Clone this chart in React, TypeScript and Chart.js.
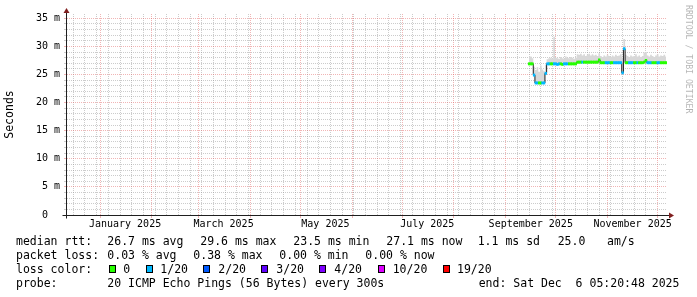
import React, { useEffect, useRef } from 'react';
import { Chart, registerables } from 'chart.js';

Chart.register(...registerables);

// x values are days counted from 1 January 2025 (day 0)
const startDay = 257;
const medianRtt = [
  26.9, 26.9, 26.9, 24.9, 23.5, 23.5, 23.5, 23.5, 23.5, 23.5,
  25.2, 26.9, 26.9, 26.9, 26.9, 26.9, 26.9, 26.8, 26.9, 26.9,
  26.8, 26.9, 26.9, 26.9, 26.9, 26.9, 26.9, 26.9, 26.9, 27.2,
  27.2, 27.2, 27.2, 27.2, 27.2, 27.2, 27.2, 27.2, 27.2, 27.2,
  27.2, 27.2, 27.6, 27.1, 27.1, 27.1, 27.1, 27.1, 27.1, 27.1,
  27.1, 27.1, 27.1, 27.1, 27.1, 27.1, 25.3, 29.6, 27.1, 27.1,
  27.1, 27.1, 27.1, 27.1, 27.1, 27.1, 27.1, 27.1, 27.1, 27.2,
  27.5, 27.1, 27.1, 27.1, 27.1, 27.1, 27.1, 27.1, 27.1, 27.1,
  27.1, 27.1, 27.1,
];
const lossCount = [
  0, 0, 0, 1, 1, 1, 0, 0, 1, 1,
  1, 1, 1, 0, 0, 1, 1, 1, 1, 0,
  0, 1, 1, 1, 0, 0, 0, 0, 0, 0,
  0, 0, 1, 0, 0, 0, 0, 0, 0, 0,
  0, 0, 0, 0, 0, 0, 1, 1, 1, 0,
  0, 1, 1, 1, 1, 1, 1, 1, 0, 0,
  1, 1, 1, 0, 0, 1, 0, 0, 0, 0,
  0, 1, 1, 1, 0, 0, 0, 1, 1, 0,
  0, 0, 0,
];
const smokeMax = [
  28.2, 28.2, 27.9, 26.4, 25.8, 26.3, 25.5, 26.6, 25.9, 25.6,
  26.8, 27.7, 27.9, 28.0, 27.8, 31.7, 28.0, 27.9, 27.8, 28.1,
  27.9, 27.8, 28.2, 28.0, 27.9, 28.1, 28.0, 27.8, 28.0, 28.6,
  28.5, 28.7, 28.4, 28.6, 28.3, 28.5, 28.7, 28.4, 28.6, 28.4,
  28.5, 28.3, 28.8, 28.3, 28.1, 28.4, 28.2, 28.5, 28.3, 28.1,
  28.4, 28.2, 28.5, 28.3, 28.4, 28.6, 28.0, 31.3, 28.5, 28.3,
  28.1, 28.4, 28.2, 28.3, 28.6, 28.2, 28.4, 28.1, 28.3, 28.9,
  29.0, 28.4, 28.2, 28.5, 28.3, 28.1, 28.4, 28.6, 28.2, 28.4,
  28.3, 28.5, 28.2,
];

const lossLabels = ['0', '1/20', '2/20', '3/20', '4/20', '10/20', '19/20'];
const lossThresholds = [0, 1, 2, 3, 4, 10, 19];
const lossColors = ['#26ff00', '#00b8ff', '#0059ff', '#5e00ff', '#7e00ff', '#dd00ff', '#ff0000'];

const monthStarts = [0, 31, 59, 90, 120, 151, 181, 212, 243, 273, 304, 334];
const monthLabelDays = [15, 74, 135, 196, 258, 319];
const monthLabels = ['January 2025', 'March 2025', 'May 2025', 'July 2025', 'September 2025', 'November 2025'];
const firstMonday = -16;
const xMin = -19.77;
const xMax = 339.6;
const yMax = 35.77;
const yTickValues = Array.from({ length: 36 }, (_, i) => i);

const rttStats = ['26.7 ms avg', '29.6 ms max', '23.5 ms min', '27.1 ms now', '1.1 ms sd', '25.0', 'am/s'];
const lossStats = ['0.03 % avg', '0.38 % max', '0.00 % min', '0.00 % now'];
const probeText = '20 ICMP Echo Pings (56 Bytes) every 300s';
const endText = 'end: Sat Dec  6 05:20:48 2025';

const MONO = '"DejaVu Sans Mono", monospace';
const MAJOR = 'rgba(222,79,79,0.42)';
const MINOR = 'rgba(143,143,143,0.45)';

function lossColor(c: number): string {
  let idx = 0;
  lossThresholds.forEach((t, i) => { if (c >= t) idx = i; });
  return lossColors[idx];
}

const axesPlugin = {
  id: 'rrdAxes',
  afterDraw(chart: any) {
    const { ctx, chartArea } = chart;
    const { left, right, top, bottom } = chartArea;
    const x0 = left - 0.5;
    const y0 = bottom + 0.5;
    ctx.save();
    ctx.strokeStyle = 'rgb(31,31,31)';
    ctx.lineWidth = 1;
    ctx.beginPath();
    ctx.moveTo(x0 - 4, y0);
    ctx.lineTo(right + 4, y0);
    ctx.moveTo(x0, y0 + 3);
    ctx.lineTo(x0, top - 2);
    ctx.stroke();
    ctx.fillStyle = 'rgb(128,31,31)';
    ctx.beginPath();
    ctx.moveTo(right + 2, y0 - 3);
    ctx.lineTo(right + 7, y0);
    ctx.lineTo(right + 2, y0 + 3);
    ctx.closePath();
    ctx.fill();
    ctx.beginPath();
    ctx.moveTo(x0 - 3, top - 1);
    ctx.lineTo(x0, top - 6);
    ctx.lineTo(x0 + 3, top - 1);
    ctx.closePath();
    ctx.fill();
    ctx.restore();
  },
};

export default function App() {
  const canvasRef = useRef<HTMLCanvasElement | null>(null);

  useEffect(() => {
    document.body.style.margin = '0';
    const canvas = canvasRef.current;
    if (!canvas) return;

    const days = medianRtt.map((_, i) => startDay + i);
    const tickKind = new Map<number, string>();
    for (let d = firstMonday; d <= xMax; d += 7) tickKind.set(d, 'week');
    monthStarts.forEach((d) => tickKind.set(d, 'month'));
    monthLabelDays.forEach((d) => { if (!tickKind.has(d)) tickKind.set(d, 'label'); });
    const labelText = new Map<number, string>();
    monthLabelDays.forEach((d, i) => labelText.set(d, monthLabels[i]));
    const xTickValues = Array.from(tickKind.keys()).sort((a, b) => a - b);

    const chart = new Chart(canvas, {
      type: 'bar',
      data: {
        datasets: [
          {
            type: 'line',
            label: 'smoke',
            data: days.map((d, i) => ({ x: d, y: smokeMax[i] })),
            stepped: 'middle',
            borderWidth: 0,
            borderColor: 'rgba(0,0,0,0)',
            backgroundColor: '#d8d8d8',
            pointRadius: 0,
            fill: '+1',
            order: 3,
          } as any,
          {
            type: 'line',
            label: 'median',
            data: days.map((d, i) => ({ x: d, y: medianRtt[i] })),
            stepped: 'middle',
            borderWidth: 1,
            borderColor: '#202020',
            pointRadius: 0,
            fill: false,
            order: 2,
          } as any,
          {
            type: 'bar',
            label: 'loss',
            data: days.map((d, i) => ({ x: d, y: [medianRtt[i] - 0.2, medianRtt[i] + 0.2] })),
            backgroundColor: lossCount.map((c) => lossColor(c)),
            borderWidth: 0,
            barPercentage: 1,
            categoryPercentage: 1,
            order: 1,
          } as any,
        ],
      },
      options: {
        responsive: false,
        animation: false,
        events: [],
        layout: { padding: { top: 14, right: 30, left: 0, bottom: 0 } },
        plugins: { legend: { display: false }, tooltip: { enabled: false } },
        scales: {
          x: {
            type: 'linear',
            min: xMin,
            max: xMax,
            bounds: 'data',
            offset: false,
            afterBuildTicks: (s: any) => { s.ticks = xTickValues.map((v) => ({ value: v })); },
            afterFit: (s: any) => { s.height = 82; },
            grid: {
              offset: false,
              lineWidth: 1,
              tickLength: 3,
              color: (c: any) => {
                if (!c.tick) return 'rgba(0,0,0,0)';
                const k = tickKind.get(c.tick.value);
                return k === 'month' ? MAJOR : k === 'week' ? MINOR : 'rgba(0,0,0,0)';
              },
              tickColor: (c: any) => (c.tick && tickKind.get(c.tick.value) === 'month' ? MAJOR : 'rgba(0,0,0,0)'),
            },
            border: { display: false, dash: [1, 1] },
            ticks: {
              autoSkip: false,
              maxRotation: 0,
              minRotation: 0,
              padding: 0,
              color: '#000',
              font: { family: MONO, size: 10, lineHeight: 1.3 },
              callback: (v: any) => labelText.get(Number(v)) ?? '',
            },
          } as any,
          y: {
            type: 'linear',
            min: 0,
            max: yMax,
            bounds: 'data',
            afterBuildTicks: (s: any) => { s.ticks = yTickValues.map((v) => ({ value: v })); },
            afterFit: (s: any) => { s.width = 67; },
            grid: {
              lineWidth: 1,
              tickLength: 3,
              color: (c: any) => (c.tick ? (c.tick.value % 5 === 0 ? MAJOR : MINOR) : 'rgba(0,0,0,0)'),
              tickColor: (c: any) => (c.tick ? (c.tick.value % 5 === 0 ? MAJOR : MINOR) : 'rgba(0,0,0,0)'),
            },
            border: { display: false, dash: [1, 1] },
            ticks: {
              autoSkip: false,
              padding: 4,
              color: '#000',
              font: { family: MONO, size: 10 },
              callback: (v: any) => {
                const n = Number(v);
                if (n % 5 !== 0) return '';
                return n === 0 ? '0  ' : `${n} m`;
              },
            },
            title: {
              display: true,
              text: 'Seconds',
              color: '#000',
              font: { family: MONO, size: 11.5, lineHeight: 1.2 },
              padding: { top: 3.6, bottom: 0 },
            },
          } as any,
        },
      },
      plugins: [axesPlugin],
    });
    return () => chart.destroy();
  }, []);

  const textBase: React.CSSProperties = {
    position: 'absolute',
    fontFamily: MONO,
    fontSize: '11.5px',
    lineHeight: '14px',
    color: '#000',
    whiteSpace: 'pre',
  };
  const rttX = [107.3, 200.3, 293.3, 386.3, 477.7, 557.7, 607];
  const lossX = [107.3, 193.3, 279.3, 365.3];
  const boxX = [109, 146, 203, 261, 319, 378, 443];
  const boxLabelX = [123.3, 160.3, 218.3, 276.3, 334.3, 392.7, 457];

  return (
    <div style={{ position: 'relative', width: 697, height: 297, background: '#fff', overflow: 'hidden' }}>
      <style>{'body{margin:0}'}</style>
      <canvas ref={canvasRef} width={697} height={297} style={{ position: 'absolute', left: 0, top: 0 }} />
      <div
        style={{
          position: 'absolute',
          left: 684,
          top: 4.5,
          writingMode: 'vertical-rl',
          fontFamily: MONO,
          fontSize: '8.2px',
          lineHeight: '9px',
          color: 'rgba(0,0,0,0.3)',
          whiteSpace: 'pre',
        }}
      >
        RRDTOOL / TOBI OETIKER
      </div>
      <span style={{ ...textBase, left: 16, top: 234 }}>median rtt:</span>
      {rttStats.map((t, i) => (
        <span key={'r' + i} style={{ ...textBase, left: rttX[i], top: 234 }}>{t}</span>
      ))}
      <span style={{ ...textBase, left: 16, top: 248 }}>packet loss:</span>
      {lossStats.map((t, i) => (
        <span key={'l' + i} style={{ ...textBase, left: lossX[i], top: 248 }}>{t}</span>
      ))}
      <span style={{ ...textBase, left: 16, top: 262 }}>loss color:</span>
      {lossLabels.map((t, i) => (
        <React.Fragment key={'c' + i}>
          <span
            style={{
              position: 'absolute',
              left: boxX[i],
              top: 265,
              width: 7,
              height: 8,
              boxSizing: 'border-box',
              border: '1px solid #000',
              background: lossColors[i],
            }}
          />
          <span style={{ ...textBase, left: boxLabelX[i], top: 262 }}>{t}</span>
        </React.Fragment>
      ))}
      <span style={{ ...textBase, left: 16, top: 276 }}>probe:</span>
      <span style={{ ...textBase, left: 107.3, top: 276 }}>{probeText}</span>
      <span style={{ ...textBase, left: 478.7, top: 276 }}>{endText}</span>
    </div>
  );
}
